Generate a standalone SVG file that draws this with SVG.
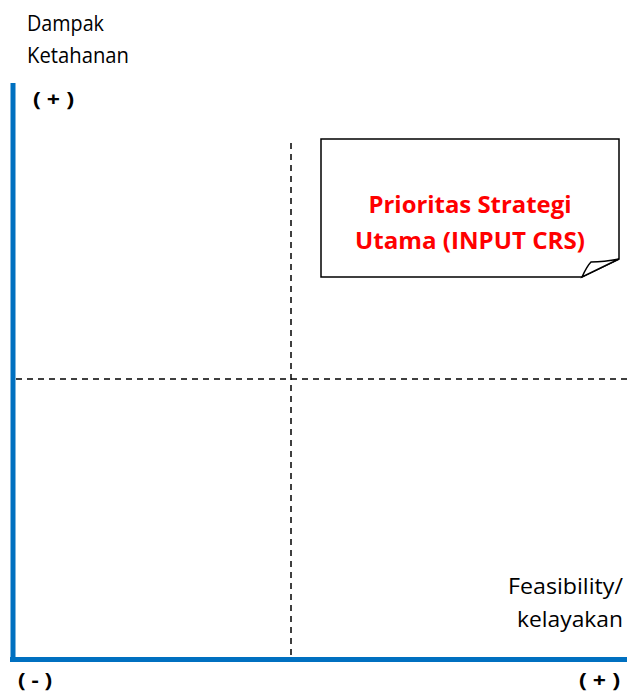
<svg xmlns="http://www.w3.org/2000/svg" width="627" height="693" viewBox="0 0 627 693">
  <style>
    .lbl { font-family: "Open Sans", "Liberation Sans", sans-serif; font-size: 21px; fill: #000; }
    .sign { font-family: "Open Sans", "Liberation Sans", sans-serif; font-size: 20px; font-weight: bold; fill: #000; }
    .axis { stroke: #0070C0; stroke-width: 5; fill: none; }
    .grid { stroke: #000; stroke-width: 1.5; stroke-dasharray: 6 5; fill: none; }
    .note { fill: #fff; stroke: #000; stroke-width: 1.5; stroke-linejoin: miter; }
    .noteText { font-family: "Open Sans", "Liberation Sans", sans-serif; font-size: 23px; font-weight: bold; fill: #FF0000; }
  </style>
  <rect width="627" height="693" fill="#fff"/>

  <!-- quadrant guides and axes -->
  <g id="connectors">
    <line class="grid" x1="291" y1="143" x2="291" y2="657"/>
    <line class="grid" x1="16" y1="379" x2="627" y2="379"/>
    <line class="axis" x1="13" y1="83" x2="13" y2="662"/>
    <line class="axis" x1="10" y1="659.5" x2="627" y2="659.5"/>
  </g>

  <!-- axis titles -->
  <g id="y-axis-label">
    <text class="lbl" x="27" y="31" textLength="77" lengthAdjust="spacingAndGlyphs">Dampak</text>
    <text class="lbl" x="27" y="63" textLength="102" lengthAdjust="spacingAndGlyphs">Ketahanan</text>
  </g>
  <g id="y-axis-plus">
    <text class="sign" x="33" y="106" textLength="41" lengthAdjust="spacingAndGlyphs">( + )</text>
  </g>
  <g id="x-axis-label">
    <text class="lbl" x="508" y="594" textLength="115" lengthAdjust="spacingAndGlyphs">Feasibility/</text>
    <text class="lbl" x="517" y="627" textLength="106" lengthAdjust="spacingAndGlyphs">kelayakan</text>
  </g>
  <g id="x-axis-minus">
    <text class="sign" x="18" y="687" textLength="34" lengthAdjust="spacingAndGlyphs">( - )</text>
  </g>
  <g id="x-axis-plus">
    <text class="sign" x="579" y="687" textLength="41" lengthAdjust="spacingAndGlyphs">( + )</text>
  </g>

  <!-- folded-corner note in the upper right quadrant -->
  <g id="priority-note">
    <path class="note" d="M321,139 H619 V259 L582,277 H321 Z"/>
    <path class="note" d="M582,277 Q587,266 591,262 Q604,262 619,259 Z"/>
    <text class="noteText" x="470" y="213" text-anchor="middle" textLength="203" lengthAdjust="spacingAndGlyphs">Prioritas Strategi</text>
    <text class="noteText" x="470" y="249" text-anchor="middle" textLength="230" lengthAdjust="spacingAndGlyphs">Utama (INPUT CRS)</text>
  </g>
</svg>
